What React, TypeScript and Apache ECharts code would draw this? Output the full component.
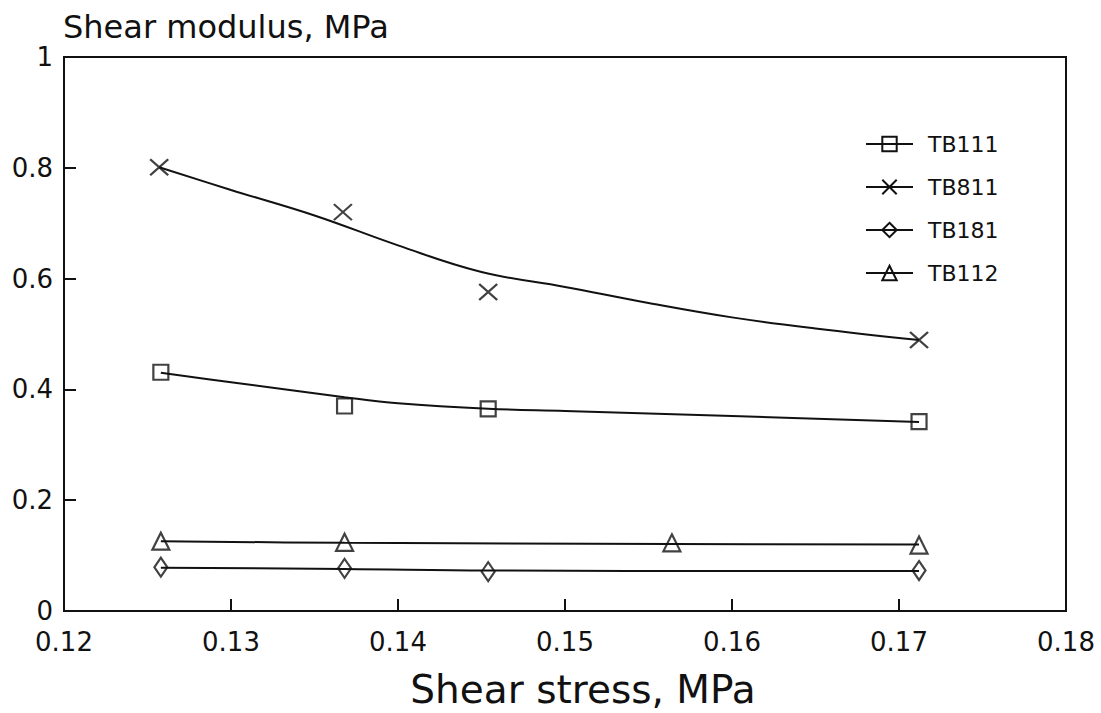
import React, { useEffect, useRef } from "react";
import * as echarts from "echarts";

// Measured points (shear stress, shear modulus)
const tb111Pts: [number, number][] = [
  [0.1258, 0.431], [0.1368, 0.370], [0.1454, 0.365], [0.1712, 0.342],
];
const tb811Pts: [number, number][] = [
  [0.1257, 0.801], [0.1367, 0.720], [0.1454, 0.576], [0.1712, 0.489],
];
const tb181Pts: [number, number][] = [
  [0.1258, 0.079], [0.1368, 0.077], [0.1454, 0.071], [0.1712, 0.073],
];
const tb112Pts: [number, number][] = [
  [0.1258, 0.126], [0.1368, 0.124], [0.1564, 0.123], [0.1712, 0.119],
];

// Fitted curves
const tb111Curve: [number, number][] = [
  [0.1258, 0.430], [0.13, 0.413], [0.1368, 0.386], [0.14, 0.375],
  [0.1454, 0.365], [0.15, 0.361], [0.16, 0.352], [0.1712, 0.341],
];
const tb811Curve: [number, number][] = [
  [0.1257, 0.801], [0.13, 0.760], [0.135, 0.714], [0.14, 0.660],
  [0.145, 0.612], [0.15, 0.585], [0.155, 0.556], [0.16, 0.530],
  [0.165, 0.510], [0.1712, 0.489],
];
const tb181Curve: [number, number][] = [
  [0.1258, 0.078], [0.1368, 0.076], [0.1454, 0.073], [0.1712, 0.072],
];
const tb112Curve: [number, number][] = [
  [0.1258, 0.126], [0.1368, 0.123], [0.1564, 0.121], [0.1712, 0.120],
];

const seriesNames = ["TB111", "TB811", "TB181", "TB112"];
const xTicks = { min: 0.12, max: 0.18, interval: 0.01 };
const yTicks = { min: 0, max: 1, interval: 0.2 };

const crossPath = "path://M0,0L10,10M0,10L10,0";
const symbols = ["rect", crossPath, "diamond", "triangle"];
const symbolSizes: any[] = [[15, 15], [18, 16], [13, 19], [17, 17]];

const FONT = "DejaVu Sans";
const INK = "#111";

export default function App() {
  const ref = useRef<HTMLDivElement>(null);
  useEffect(() => {
    document.body.style.margin = "0";
    const chart = echarts.init(ref.current!, undefined, { renderer: "svg" });
    const pts = [tb111Pts, tb811Pts, tb181Pts, tb112Pts];
    const curves = [tb111Curve, tb811Curve, tb181Curve, tb112Curve];
    const markStyle = { color: "transparent", borderColor: INK, borderWidth: 2.2 };
    const series: any[] = [];
    seriesNames.forEach((name, i) => {
      series.push({
        name,
        type: "line",
        data: curves[i],
        smooth: 0.4,
        showSymbol: false,
        symbol: symbols[i],
        symbolSize: symbolSizes[i],
        lineStyle: { color: INK, width: 2 },
        itemStyle: markStyle,
        z: 2,
      });
      series.push({
        name: name + " points",
        type: "scatter",
        data: pts[i],
        symbol: symbols[i],
        symbolSize: symbolSizes[i],
        itemStyle: markStyle,
        z: 3,
      });
    });
    chart.setOption({
      animation: false,
      backgroundColor: "#fff",
      textStyle: { fontFamily: FONT, color: INK },
      title: {
        text: "Shear modulus, MPa",
        left: 58,
        top: 6,
        textStyle: { fontFamily: FONT, fontSize: 32, fontWeight: "normal", color: INK },
      },
      legend: {
        data: seriesNames,
        orient: "vertical",
        left: 860,
        top: 128,
        itemWidth: 47,
        itemHeight: 18,
        itemGap: 21,
        itemStyle: { color: "transparent", borderColor: INK, borderWidth: 2 },
        lineStyle: { color: INK, width: 2 },
        textStyle: { fontFamily: FONT, fontSize: 22, color: INK, padding: [0, 0, 0, 10] },
      },
      grid: {
        left: 64,
        right: 35,
        top: 57,
        bottom: 102,
        containLabel: false,
        outerBoundsMode: "none",
        show: true,
        borderColor: INK,
        borderWidth: 2,
        backgroundColor: "transparent",
      },
      xAxis: {
        type: "value",
        min: xTicks.min,
        max: xTicks.max,
        interval: xTicks.interval,
        name: "Shear stress, MPa",
        nameLocation: "middle",
        nameGap: 58,
        nameTextStyle: {
          fontFamily: FONT,
          fontSize: 39,
          lineHeight: 40,
          color: INK,
          padding: [0, 0, 0, 36],
        },
        axisLine: { show: true, lineStyle: { color: INK, width: 2 } },
        axisTick: { show: true, inside: true, length: 12, lineStyle: { color: INK, width: 2 } },
        axisLabel: {
          fontFamily: FONT,
          fontSize: 26,
          color: INK,
          margin: 18,
          formatter: (v: number) => String(Math.round(v * 100) / 100),
        },
        splitLine: { show: false },
      },
      yAxis: {
        type: "value",
        min: yTicks.min,
        max: yTicks.max,
        interval: yTicks.interval,
        axisLine: { show: true, lineStyle: { color: INK, width: 2 } },
        axisTick: { show: true, inside: true, length: 12, lineStyle: { color: INK, width: 2 } },
        axisLabel: {
          fontFamily: FONT,
          fontSize: 26,
          color: INK,
          margin: 11,
          formatter: (v: number) => String(Math.round(v * 10) / 10),
        },
        splitLine: { show: false },
      },
      series,
    });
    return () => chart.dispose();
  }, []);
  return <div ref={ref} style={{ width: 1101, height: 713 }} />;
}
